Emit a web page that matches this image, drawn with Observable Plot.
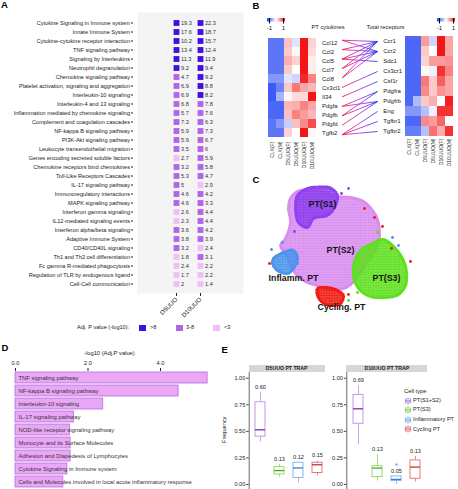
<!DOCTYPE html>
<html><head><meta charset="utf-8">
<script src="https://cdn.jsdelivr.net/npm/d3@7"></script>
<script src="https://cdn.jsdelivr.net/npm/@observablehq/plot@0.6"></script>
<style>
body{margin:0;background:#fff;font-family:"Liberation Sans",Arial,sans-serif;}
#fig{position:relative;width:458px;height:489px;overflow:hidden;background:#fff;}
#fig svg{position:absolute;left:0;top:0;}
.t{position:absolute;white-space:nowrap;line-height:1;color:#222;}
</style></head><body><div id="fig"></div>
<script>
// ---------- Panel A data ----------
const pathways = ["Cytokine Signaling in Immune system","Innate Immune System","Cytokine-cytokine receptor interaction","TNF signaling pathway","Signaling by Interleukins","Neutrophil degranulation","Chemokine signaling pathway","Platelet activation, signaling and aggregation","Interleukin-10 signaling","Interleukin-4 and 13 signaling","Inflammation mediated by chemokine signaling","Complement and coagulation cascades","NF-kappa B signaling pathway","PI3K-Akt signaling pathway","Leukocyte transendothelial migration","Genes encoding secreted soluble factors","Chemokine receptors bind chemokines","Toll-Like Receptors Cascades","IL-17 signaling pathway","Immunoregulatory interactions","MAPK signaling pathway","Interferon gamma signaling","IL12-mediated signaling events","Interferon alpha/beta signaling","Adaptive Immune System","CD40/CD40L signaling","Th1 and Th2 cell differentiation","Fc gamma R-mediated phagocytosis","Regulation of TLR by endogenous ligand","Cell-Cell communication"];
const d5Values  = [19.3,17.6,10.2,13.4,11.3,9.2,4.7,6.9,6.9,6.8,5.7,7.3,5.9,5.9,3.5,2.7,3.2,5.3,5,4.6,4.6,2.6,2.3,3.6,3.8,3.2,1.8,2.4,1.7,2];
const d10Values = [22.3,18.7,15.7,12.4,11.9,9.4,9.2,8.8,8.2,7.8,7.6,6.3,7.3,6.7,6,5.9,5.8,4.7,2.9,4.2,3.3,4.4,4.4,4.2,3.9,2.4,3.1,2.2,2.2,1.4];
const conditions = ["D5UUO","D10UUO"];
const pBins = [">8","3-8","<3"];
const binColors = ["#3f10e2","#b264ea","#f1bef7"];

// ---------- Panel B data ----------
const ligands = ["Ccl12","Ccl2","Ccl5","Ccl7","Ccl8","Cx3cl1","Il34","Pdgfa","Pdgfb","Pdgfd","Tgfb2"];
const receptors = ["Ccr1","Ccr2","Sdc1","Cx3cr1","Csf1r","Pdgfra","Pdgfrb","Eng","Tgfbr1","Tgfbr2"];
const samples = ["CLK(F)","CLK(M)","D5UUO(F)","D5UUO(M)","D10UUO(F)","D10UUO(M)"];
const ligandZ = [
 [-1.0,-1.0,0.35,-0.2,1.3,0.25],
 [-1.0,-1.0,0.3,0.05,1.3,0.2],
 [-1.0,-1.0,0.45,0.25,1.3,0.1],
 [-1.0,-1.0,0.3,0.0,1.3,0.1],
 [-0.75,-0.75,-0.2,-0.3,1.2,0.7],
 [-1.2,-0.9,0.3,0.75,0.5,0.4],
 [-1.2,-0.55,0.05,0.2,0.2,1.3],
 [-1.1,-1.1,0.4,0.45,0.7,0.5],
 [-1.1,-1.1,0.35,0.7,0.55,0.4],
 [-1.0,-0.75,-0.35,0.35,0.65,1.0],
 [-1.0,-1.0,0.25,0.0,1.3,0.05]
];
const receptorZ = [
 [-1.1,-1.1,0.55,-0.3,1.3,0.5],
 [-1.1,-1.1,0.3,0.0,1.3,0.5],
 [-1.1,-1.1,0.25,0.55,0.55,0.6],
 [-1.1,-1.1,0.05,-0.1,1.15,0.7],
 [-1.1,-1.1,0.75,0.3,0.9,0.5],
 [-1.1,-1.1,0.65,0.3,0.6,0.5],
 [-1.1,-0.5,0.3,0.45,0.0,1.25],
 [-0.75,-0.75,-0.45,-0.1,1.15,1.15],
 [-1.1,-1.1,0.65,0.55,0.85,0.0],
 [-0.95,-0.95,-0.45,0.8,0.45,1.15]
];
const pairs = [["Ccl12","Ccr1"],["Ccl12","Ccr2"],["Ccl2","Ccr1"],["Ccl2","Ccr2"],["Ccl5","Ccr1"],["Ccl5","Ccr2"],["Ccl5","Sdc1"],["Ccl7","Ccr1"],["Ccl7","Ccr2"],["Ccl8","Ccr1"],["Ccl8","Ccr2"],["Cx3cl1","Cx3cr1"],["Il34","Csf1r"],["Pdgfa","Pdgfra"],["Pdgfa","Pdgfrb"],["Pdgfb","Pdgfra"],["Pdgfb","Pdgfrb"],["Pdgfd","Pdgfrb"],["Tgfb2","Eng"],["Tgfb2","Tgfbr1"],["Tgfb2","Tgfbr2"]];

// ---------- Panel C data (UMAP-like coordinates) ----------
const s2Hull = [[-4.0,4.7],[-3.3,5.4],[-2.0,5.6],[-0.6,5.3],[0.7,4.9],[2.0,4.8],[3.3,4.4],[4.2,3.5],[4.7,2.6],[4.9,1.0],[4.6,-0.3],[3.6,-1.8],[2.8,-3.0],[2.0,-3.9],[1.3,-4.3],[0.0,-4.4],[-1.3,-4.0],[-2.3,-3.7],[-3.3,-3.0],[-4.0,-2.0],[-4.4,-1.0],[-5.0,0.0],[-4.5,0.7],[-4.0,2.3],[-4.2,3.7]];
const s1Hull = [[-3.3,5.0],[-2.3,5.7],[-1.3,5.85],[0.0,5.75],[0.7,5.0],[0.35,3.7],[-0.35,3.0],[-1.7,2.7],[-2.3,1.8],[-3.2,2.3],[-3.5,3.7]];
const s3Hull = [[5.3,0.6],[6.5,-0.3],[7.3,-1.5],[7.6,-2.7],[7.5,-4.0],[6.8,-4.9],[5.5,-5.2],[4.0,-5.1],[3.0,-4.5],[2.4,-3.5],[2.3,-2.0],[3.0,-0.5],[4.2,0.2]];
const inflHull = [[-5.7,-1.3],[-4.7,-0.7],[-3.7,-0.5],[-3.3,-1.3],[-3.7,-2.3],[-4.3,-2.8],[-5.3,-2.5],[-5.8,-1.8]];
const cycHull = [[-1.3,-4.3],[-0.3,-4.2],[0.7,-4.5],[1.3,-5.0],[1.0,-5.8],[0.0,-6.0],[-0.8,-5.7],[-1.3,-5.0]];
const redDots = [[3.4,3.7],[4.4,2.8],[5.2,1.9],[-6.1,-1.8],[8.0,-1.6],[6.1,-0.3],[1.8,-4.9]];
const blueDots = [[6.2,0.8],[6.8,0.0],[-4.8,0.3],[-3.3,-1.8],[-5.9,-0.4]];
const violetDots = [[1.8,5.7],[1.1,5.2],[-3.6,1.4]];
const greenDots = [[4.7,1.3],[1.8,-5.5],[2.7,-4.7]];
const clusterNames = ["PT(S1)","PT(S2)","PT(S3)","Inflamm. PT","Cycling. PT"];
const clusterLabelX = [-0.8,1.0,5.6,-3.7,1.1];
const clusterLabelY = [4.1,-0.5,-3.3,-3.3,-6.2];

// ---------- Panel D data ----------
const dPathways = ["TNF signaling pathway","NF-kappa B signaling pathway","Interleukin-10 signaling","IL-17 signaling pathway","NOD-like receptor signaling pathway","Monocyte and its Surface Molecules","Adhesion and Diapedesis of Lymphocytes","Cytokine Signaling in Immune system","Cells and Molecules involved in local acute inflammatory response"];
const dValues = [5.3,4.5,2.42,1.61,1.5,1.52,1.52,1.43,1.32];

// ---------- Panel E data ----------
const cellTypes = ["PT(S1+S2)","PT(S3)","Inflammatory PT","Cycling PT"];
const boxColors = ["#bd8ce6","#86dc58","#7eaee8","#e36c6c"];
const medColors = ["#7430b0","#4ea822","#3a7fd4","#c93434"];
const d5Lo  = [0.40,0.07,0.012,0.08];
const d5Q1  = [0.45,0.094,0.06,0.107];
const d5Med = [0.514,0.13,0.155,0.185];
const d5Q3  = [0.774,0.163,0.204,0.204];
const d5Hi  = [0.868,0.188,0.204,0.22];
const d5Mean = ["0.60","0.13","0.12","0.15"];
const d10Lo  = [0.373,0.031,0.0,0.022];
const d10Q1  = [0.571,0.069,0.031,0.053];
const d10Med = [0.712,0.154,0.047,0.163];
const d10Q3  = [0.843,0.172,0.075,0.226];
const d10Hi  = [0.93,0.279,0.075,0.263];
const d10Mean = ["0.69","0.13","0.05","0.13"];
const d10Outliers = [["Inflammatory PT",0.188]];

// ================= drawing =================
const W = 458, H = 489;
const FONT = '"Liberation Sans", Arial, sans-serif';
const fig = document.getElementById("fig");
const baseStyle = (fs) => ({fontFamily: FONT, fontSize: fs + "px", background: "none", color: "#222", overflow: "visible"});
function put(node){ fig.appendChild(node); return node; }
function txt(s, x, y, fs, css=""){ const d=document.createElement("div"); d.className="t"; d.textContent=s; d.style.left=x+"px"; d.style.top=(y-fs/2)+"px"; d.style.fontSize=fs+"px"; d.style.cssText+=css; fig.appendChild(d); return d; }

// ---- Panel A ----
const aRows = pathways.flatMap((p,i)=>[
  {pathway:p, cond:"D5UUO", v:d5Values[i]},
  {pathway:p, cond:"D10UUO", v:d10Values[i]}
]);
const pBin = v => v > 8 ? ">8" : v >= 3 ? "3-8" : "<3";
put(Plot.plot({
  width:W, height:H, marginLeft:137, marginRight:W-243, marginTop:12, marginBottom:H-293,
  style: baseStyle(5.6),
  x:{type:"point", domain:conditions, range:[164,212], label:null},
  y:{type:"band", domain:pathways, padding:0, label:null},
  color:{type:"ordinal", domain:pBins, range:binColors},
  marks:[
    Plot.frame({fill:"#f4f4f4", stroke:null}),
    Plot.dot(aRows,{x:"cond", y:"pathway", symbol:"square", r:3.3, fill:d=>pBin(d.v)}),
    Plot.text(aRows,{x:"cond", y:"pathway", text:d=>String(d.v), textAnchor:"start", dx:4.5, fill:"#333"}),
    Plot.axisY({tickSize:2, tickPadding:1.5, dx:-4, label:null}),
    Plot.axisX({tickSize:3, tickRotate:-45, tickPadding:2, fontSize:6.2, label:null})
  ]
}));
// legend A
txt("Adj. P value (-log10):", 77, 328, 5.6);
const legX = [139, 176, 213], legLab = [">8","3-8","<3"], legTx = [150,186,224];
pBins.forEach((b,i)=>{
  const s=document.createElement("div");
  s.style.cssText=`position:absolute;left:${legX[i]}px;top:325px;width:6.5px;height:6px;background:${binColors[i]}`;
  fig.appendChild(s);
  txt(legLab[i], legTx[i], 328, 5.6);
});

// ---- Panel B ----
const heatInterp = d3.piecewise(d3.interpolateRgb, ["#2446f5","#ffffff","#f30d0d"]);
const heatColor = {type:"linear", domain:[-1.35,1.35], interpolate:heatInterp};
const LH = {l:266, r:317, t:35, b:139};
const RH = {l:402.7, r:455, t:36, b:136};
const ligCells = ligands.flatMap((g,i)=>samples.map((s,j)=>({gene:g, col:s, z:ligandZ[i][j]})));
const recCells = receptors.flatMap((g,i)=>samples.map((s,j)=>({gene:g, col:s, z:receptorZ[i][j]})));
put(Plot.plot({
  width:W, height:H, marginLeft:LH.l, marginRight:W-LH.r, marginTop:LH.t, marginBottom:H-LH.b,
  style: baseStyle(6),
  x:{domain:samples, padding:0, label:null},
  y:{domain:ligands, padding:0, label:null},
  color: heatColor,
  marks:[
    Plot.cell(ligCells,{x:"col", y:"gene", fill:"z", inset:-0.15, shapeRendering:"crispEdges"}),
    Plot.axisY({anchor:"right", tickSize:0, tickPadding:4.5, label:null}),
    Plot.axisX({anchor:"bottom", tickSize:0, tickRotate:-90, tickPadding:2, fontSize:5, label:null})
  ]
}));
put(Plot.plot({
  width:W, height:H, marginLeft:RH.l, marginRight:W-RH.r, marginTop:RH.t, marginBottom:H-RH.b,
  style: baseStyle(6),
  x:{domain:samples, padding:0, label:null},
  y:{domain:receptors, padding:0, label:null, axis:null},
  color: heatColor,
  marks:[
    Plot.cell(recCells,{x:"col", y:"gene", fill:"z", inset:-0.15, shapeRendering:"crispEdges"}),
    Plot.text(receptors,{y:d=>d, text:d=>d, frameAnchor:"left", textAnchor:"start", dx:-20, fill:"#222"}),
    Plot.axisX({anchor:"bottom", tickSize:0, tickRotate:-90, tickPadding:2, fontSize:5, label:null})
  ]
}));
const ligBand = d3.scaleBand(ligands, [LH.t, LH.b]);
const recBand = d3.scaleBand(receptors, [RH.t, RH.b]);
const linkSvg = put(Plot.plot({
  width:W, height:H, marginLeft:341.5, marginRight:W-377, marginTop:0, marginBottom:0,
  style: baseStyle(6),
  x:{domain:[0,1], axis:null},
  y:{domain:[0,H], range:[0,H], axis:null},
  marks:[
    Plot.link(pairs,{x1:0, x2:1,
      y1:d=>ligBand(d[0])+ligBand.bandwidth()/2,
      y2:d=>recBand(d[1])+recBand.bandwidth()/2,
      stroke:"url(#lrGrad)", strokeWidth:0.9})
  ]
}));
{
  const xs = linkSvg.scale("x");
  const grad = d3.select(linkSvg).insert("defs", ":first-child").append("linearGradient")
    .attr("id","lrGrad").attr("gradientUnits","userSpaceOnUse")
    .attr("x1", xs.apply(0)).attr("x2", xs.apply(1)).attr("y1",0).attr("y2",0);
  [["0%","#ee1e4a"],["45%","#c43ad6"],["100%","#2a3af0"]].forEach(([o,c])=>grad.append("stop").attr("offset",o).attr("stop-color",c));
}
txt("PT cytokines", 311.5, 27.7, 5.8);
txt("Total receptors", 366.5, 27.7, 5.8);
function ramp(x, y){
  const l = Plot.legend({color: heatColor, legend:"ramp", width:26, height:15, marginLeft:4, marginRight:4, marginTop:1, marginBottom:10.5,
    ticks:[-1,1], tickFormat:d=>String(d), tickSize:2, label:null, style:{fontFamily:FONT, fontSize:"5.5px", background:"none"}});
  l.style.position="absolute"; l.style.left=x+"px"; l.style.top=y+"px";
  fig.appendChild(l);
}
ramp(262.7, 17.3);
ramp(432.7, 17.3);

// ---- Panel C ----
const clusterColors = ["#d98cef","#8f41ee","#5fe01f","#4b93ec","#ef1c14"];
const hulls = [s2Hull, s1Hull, s3Hull, inflHull, cycHull];
const clusterLabels = clusterNames.map((n,i)=>({name:n, x:clusterLabelX[i], y:clusterLabelY[i]}));
const cSvg = put(Plot.plot({
  width:W, height:H, marginLeft:250, marginRight:W-420, marginTop:180, marginBottom:H-315,
  style: baseStyle(8.8),
  x:{domain:[-8,9], axis:null},
  y:{domain:[-7,6.5], axis:null},
  marks:[
    ...hulls.map((h,i) => Plot.line(h,{x:d=>d[0], y:d=>d[1], curve:"catmull-rom-closed", fill:`url(#speck${i})`, stroke:clusterColors[i], strokeWidth:3.2, strokeDasharray:"0.1 2.4", strokeLinecap:"round"})),
    Plot.dot(violetDots,{x:d=>d[0], y:d=>d[1], r:1.4, fill:clusterColors[1]}),
    Plot.dot(greenDots,{x:d=>d[0], y:d=>d[1], r:1.4, fill:clusterColors[2]}),
    Plot.dot(blueDots,{x:d=>d[0], y:d=>d[1], r:1.4, fill:clusterColors[3]}),
    Plot.dot(redDots,{x:d=>d[0], y:d=>d[1], r:1.4, fill:clusterColors[4]}),
    Plot.text(clusterLabels,{x:"x", y:"y", text:"name", fontWeight:"bold", fill:"#151515"})
  ]
}));
{
  const defs = d3.select(cSvg).insert("defs", ":first-child");
  clusterColors.forEach((c,i)=>{
    const p = defs.append("pattern").attr("id",`speck${i}`).attr("patternUnits","userSpaceOnUse")
      .attr("width",2.6).attr("height",2.6);
    p.append("rect").attr("width",2.6).attr("height",2.6).attr("fill",c).attr("fill-opacity",0.72);
    p.append("circle").attr("cx",1.3).attr("cy",1.3).attr("r",1.15).attr("fill",c);
  });
}

// ---- Panel D ----
const dData = dPathways.map((n,i)=>({name:n, v:dValues[i]}));
put(Plot.plot({
  width:W, height:H, marginLeft:15, marginRight:W-210.75, marginTop:370, marginBottom:0,
  style: baseStyle(5.9),
  x:{domain:[0,5.4], label:null},
  y:{domain:dPathways, padding:0.12, axis:null},
  marks:[
    Plot.barX(dData,{x:"v", y:"name", fill:"#eaa7f6", stroke:"#b36de0", strokeWidth:0.8}),
    Plot.text(dData,{x:0, y:"name", text:"name", textAnchor:"start", dx:3, fill:"#333"}),
    Plot.axisX({anchor:"top", ticks:[0,2,4], tickSize:3, tickPadding:2.5, fontSize:5.6, label:null}),
    Plot.text(["-log10 (Adj.P value)"],{frameAnchor:"top", dy:-19.5, dx:-4, fontSize:5.8, fill:"#222"})
  ]
}));

// ---- Panel E ----
function ePanel(title, lo, q1, med, q3, hi, means, outliers, fL, fR, rL, rR){
  const rows = cellTypes.map((t,i)=>({type:t, lo:lo[i], q1:q1[i], med:med[i], q3:q3[i], hi:hi[i], mean:means[i], c:boxColors[i], m:medColors[i]}));
  put(Plot.plot({
    width:W, height:H, marginLeft:fL, marginRight:W-fR, marginTop:372, marginBottom:0,
    style: baseStyle(5.5),
    x:{type:"band", domain:cellTypes, range:[rL,rR], paddingInner:0.45, paddingOuter:0.2, axis:null},
    y:{domain:[-0.048,1.054], axis:null},
    marks:[
      Plot.frame({anchor:"left", stroke:"#444", strokeWidth:0.8}),
      Plot.axisY({ticks:[0,0.25,0.5,0.75,1], tickFormat:d3.format(".2f"), tickSize:2.5, tickPadding:1.5, label:null, stroke:"#444"}),
      Plot.ruleX(rows,{x:"type", y1:"lo", y2:"q1", stroke:"c", strokeWidth:0.8}),
      Plot.ruleX(rows,{x:"type", y1:"q3", y2:"hi", stroke:"c", strokeWidth:0.8}),
      Plot.barY(rows,{x:"type", y1:"q1", y2:"q3", fill:"white", stroke:"c", strokeWidth:0.9}),
      Plot.tickY(rows,{x:"type", y:"med", stroke:"m", strokeWidth:1.3}),
      Plot.dot(outliers,{x:d=>d[0], y:d=>d[1], r:1.2, fill:boxColors[2]}),
      Plot.text(rows,{x:"type", y:"hi", text:"mean", dy:-5.5, fill:"#222", fontSize:5.6})
    ]
  }));
  const hd=document.createElement("div");
  hd.className="t";
  hd.textContent=title;
  hd.style.cssText+=`left:${fL}px;top:365px;width:${fR-fL}px;height:7px;line-height:7px;background:#d6d6d6;text-align:center;font-weight:bold;font-size:5.2px;`;
  fig.appendChild(hd);
}
ePanel("D5UUO PT TRAP", d5Lo, d5Q1, d5Med, d5Q3, d5Hi, d5Mean, [], 248.7, 324.7, 250, 326.5);
ePanel("D10UUO PT TRAP", d10Lo, d10Q1, d10Med, d10Q3, d10Hi, d10Mean, d10Outliers, 346.3, 427.3, 348.8, 425.3);
{
  const f = txt("Frequency", 0, 0, 5.6);
  f.style.left = "205px"; f.style.top = "427px"; f.style.width="40px"; f.style.textAlign="center";
  f.style.transform = "rotate(-90deg)";
}
txt("Cell type", 404, 391.7, 5.8);
cellTypes.forEach((t,i)=>{
  const y = 400.7 + i*9.55;
  const g = document.createElementNS("http://www.w3.org/2000/svg","svg");
  g.setAttribute("width","8"); g.setAttribute("height","8");
  g.style.cssText=`position:absolute;left:403.5px;top:${y-4}px;`;
  g.innerHTML = `<line x1="4" x2="4" y1="0.3" y2="7.7" stroke="${boxColors[i]}" stroke-width="0.8"/><rect x="1.3" y="2" width="5.4" height="4" fill="white" stroke="${boxColors[i]}" stroke-width="0.8"/><line x1="1.3" x2="6.7" y1="4" y2="4" stroke="${medColors[i]}" stroke-width="0.9"/>`;
  fig.appendChild(g);
  txt(t, 413, y, 5.6);
});

// ---- panel letters ----
txt("A", 1, 5, 9.5, "font-weight:bold;color:#000;");
txt("B", 252.5, 6, 9.5, "font-weight:bold;color:#000;");
txt("C", 252.5, 180, 9.5, "font-weight:bold;color:#000;");
txt("D", 1.5, 348, 9.5, "font-weight:bold;color:#000;");
txt("E", 221.5, 349.7, 9.5, "font-weight:bold;color:#000;");
</script></body></html>
